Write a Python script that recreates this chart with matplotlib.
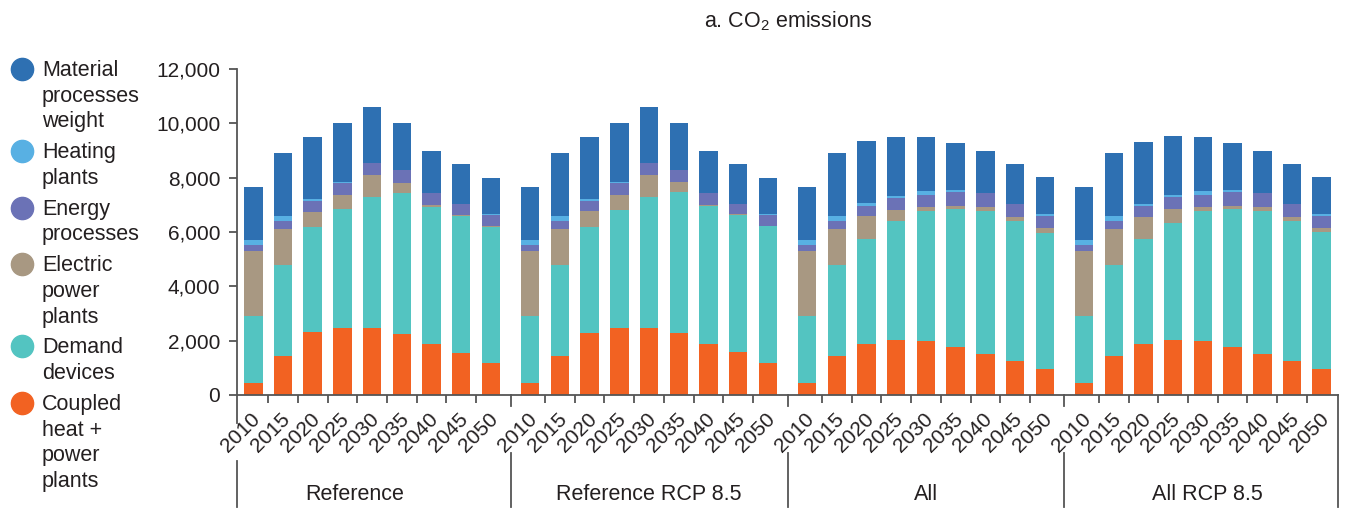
import matplotlib
matplotlib.use("Agg")
import matplotlib.pyplot as plt
import matplotlib.transforms as mtransforms
from matplotlib.lines import Line2D
import numpy as np

plt.rcParams['font.family'] = ['Liberation Sans', 'DejaVu Sans']

# ---------------- data ----------------
years = ["2010", "2015", "2020", "2025", "2030", "2035", "2040", "2045", "2050"]
scenarios = ["Reference", "Reference RCP 8.5", "All", "All RCP 8.5"]
title = "a. CO$_\\mathregular{2}$ emissions"

# each list: Reference | Reference RCP 8.5 | All | All RCP 8.5  (9 years each)
coupled_heat_power = [440, 1440, 2330, 2470, 2470, 2250, 1880, 1550, 1180,
                      440, 1440, 2280, 2470, 2470, 2280, 1880, 1580, 1180,
                      440, 1440, 1880, 2030, 1990, 1770, 1510, 1250, 960,
                      440, 1440, 1880, 2030, 1990, 1770, 1510, 1250, 960]
demand_devices = [2470, 3350, 3850, 4380, 4820, 5190, 5040, 5050, 5010,
                  2470, 3350, 3900, 4340, 4820, 5190, 5080, 5040, 5040,
                  2470, 3350, 3860, 4360, 4790, 5080, 5260, 5150, 5010,
                  2470, 3350, 3860, 4310, 4790, 5080, 5260, 5150, 5040]
electric_power = [2390, 1320, 550, 520, 810, 370, 70, 40, 40,
                  2390, 1320, 590, 550, 810, 370, 40, 40, 0,
                  2390, 1320, 850, 430, 150, 110, 150, 150, 180,
                  2390, 1320, 810, 520, 150, 110, 150, 150, 150]
energy_processes = [220, 300, 400, 440, 440, 480, 440, 390, 400,
                    220, 300, 370, 440, 440, 440, 440, 370, 400,
                    220, 300, 370, 440, 440, 520, 520, 480, 440,
                    220, 300, 410, 410, 440, 520, 520, 480, 440]
heating_plants = [190, 180, 70, 40, 0, 0, 0, 0, 40,
                  190, 180, 70, 40, 0, 0, 0, 0, 40,
                  190, 180, 110, 70, 150, 70, 0, 0, 70,
                  190, 180, 70, 110, 150, 70, 0, 0, 70]
material_weight = [1950, 2320, 2280, 2170, 2060, 1730, 1550, 1470, 1330,
                   1950, 2320, 2280, 2170, 2060, 1730, 1550, 1470, 1330,
                   1950, 2320, 2280, 2170, 1990, 1730, 1550, 1470, 1360,
                   1950, 2320, 2280, 2170, 1990, 1730, 1550, 1470, 1360]

# stacking order bottom -> top
series_values = [coupled_heat_power, demand_devices, electric_power,
                 energy_processes, heating_plants, material_weight]
series_colors = ["#F26222", "#53C4C1", "#A89882", "#6B72B6", "#58B0E3", "#2E70B2"]

# legend order top -> bottom
legend_labels = ["Material\nprocesses\nweight", "Heating\nplants", "Energy\nprocesses",
                 "Electric\npower\nplants", "Demand\ndevices", "Coupled\nheat +\npower\nplants"]
legend_colors = ["#2E70B2", "#58B0E3", "#6B72B6", "#A89882", "#53C4C1", "#F26222"]

yticks = [0, 2000, 4000, 6000, 8000, 10000, 12000]

# ---------------- layout ----------------
W, H = 1348, 508
fig = plt.figure(figsize=(W / 100, H / 100), dpi=100)
ax_l, ax_r, ax_b, ax_t = 237, 1338, 395, 69
ax = fig.add_axes([ax_l / W, 1 - ax_b / H, (ax_r - ax_l) / W, (ax_b - ax_t) / H])

G = 9.33           # group pitch
n = len(years)
x = np.array([g * G + i for g in range(len(scenarios)) for i in range(n)])
edge = 0.55
xmin, xmax = -edge, (len(scenarios) - 1) * G + (n - 1) + edge

bottom = np.zeros(len(x))
for vals, col in zip(series_values, series_colors):
    v = np.array(vals, dtype=float)
    ax.bar(x, v, bottom=bottom, width=0.62, color=col, linewidth=0, zorder=2)
    bottom += v

ax.set_xlim(xmin, xmax)
ax.set_ylim(0, 12000)

txt_col = "#231f20"
spine_col = "#555555"
for s in ["top", "right"]:
    ax.spines[s].set_visible(False)
ax.spines["left"].set_color(spine_col)
ax.spines["bottom"].set_color(spine_col)
ax.spines["left"].set_linewidth(1.3)
ax.spines["bottom"].set_linewidth(1.3)

ax.set_yticks(yticks)
ax.set_yticklabels([f"{t:,}" for t in yticks])
ax.tick_params(axis="y", direction="out", length=5.5, width=1.3, color=spine_col,
               pad=6.5, labelsize=15, labelcolor=txt_col)

# x tick labels at bar centers
ax.set_xticks(x)
ax.set_xticklabels(years * len(scenarios))
ax.tick_params(axis="x", which="major", length=0, pad=15, labelsize=15,
               labelcolor=txt_col)
offset = mtransforms.ScaledTranslation(4 / 100, 0, fig.dpi_scale_trans)
for lab in ax.get_xticklabels():
    lab.set_rotation(45)
    lab.set_ha("right")
    lab.set_va("center")
    lab.set_rotation_mode("anchor")
    lab.set_transform(lab.get_transform() + offset)

# minor ticks between bars
minor = [g * G + i + 0.5 for g in range(len(scenarios)) for i in range(n - 1)]
ax.set_xticks(minor, minor=True)
ax.tick_params(axis="x", which="minor", direction="out", length=6, width=1.3,
               color=spine_col)

# group separators below axis
tr = mtransforms.blended_transform_factory(ax.transData, ax.transAxes)
def fy(py):
    return (ax_b - py) / (ax_b - ax_t)

seps = [xmin] + [g * G - (G - (n - 1)) / 2 for g in range(1, len(scenarios))] + [xmax]
for k, sx in enumerate(seps):
    if k == 0:
        segs = [(0, 423), (461, 507)]
    elif k == len(seps) - 1:
        segs = [(395, 507)]
    else:
        segs = [(395, 406), (453, 507)]
    for a, b in segs:
        ya = 0 if a == 0 else fy(a)
        ax.add_line(Line2D([sx, sx], [ya, fy(b)], transform=tr, color=spine_col,
                           lw=1.3, clip_on=False))

# group labels
label_nudge = [-0.6, 0, 0, 0.15]
for g, name in enumerate(scenarios):
    cx = g * G + (n - 1) / 2 + label_nudge[g]
    ax.text(cx, fy(494), name, transform=tr, ha="center", va="center",
            fontsize=15.5, color=txt_col)

# title
fig.text(788 / W, 1 - 21 / H, title, ha="center", va="center", fontsize=15.5,
         color=txt_col)

# legend (manual)
base = 76.0
for lab, col in zip(legend_labels, legend_colors):
    lines = lab.split("\n")
    fig.add_artist(Line2D([22 / W], [1 - (base - 7) / H], marker="o", markersize=16,
                          color=col, linestyle="none", transform=fig.transFigure))
    for j, line in enumerate(lines):
        fig.text(42 / W, 1 - (base + j * 25.7) / H, line, ha="left", va="baseline",
                 fontsize=15.5, color=txt_col)
    base += (len(lines) - 1) * 25.7 + 30.8

fig.savefig("out.png", dpi=100)
